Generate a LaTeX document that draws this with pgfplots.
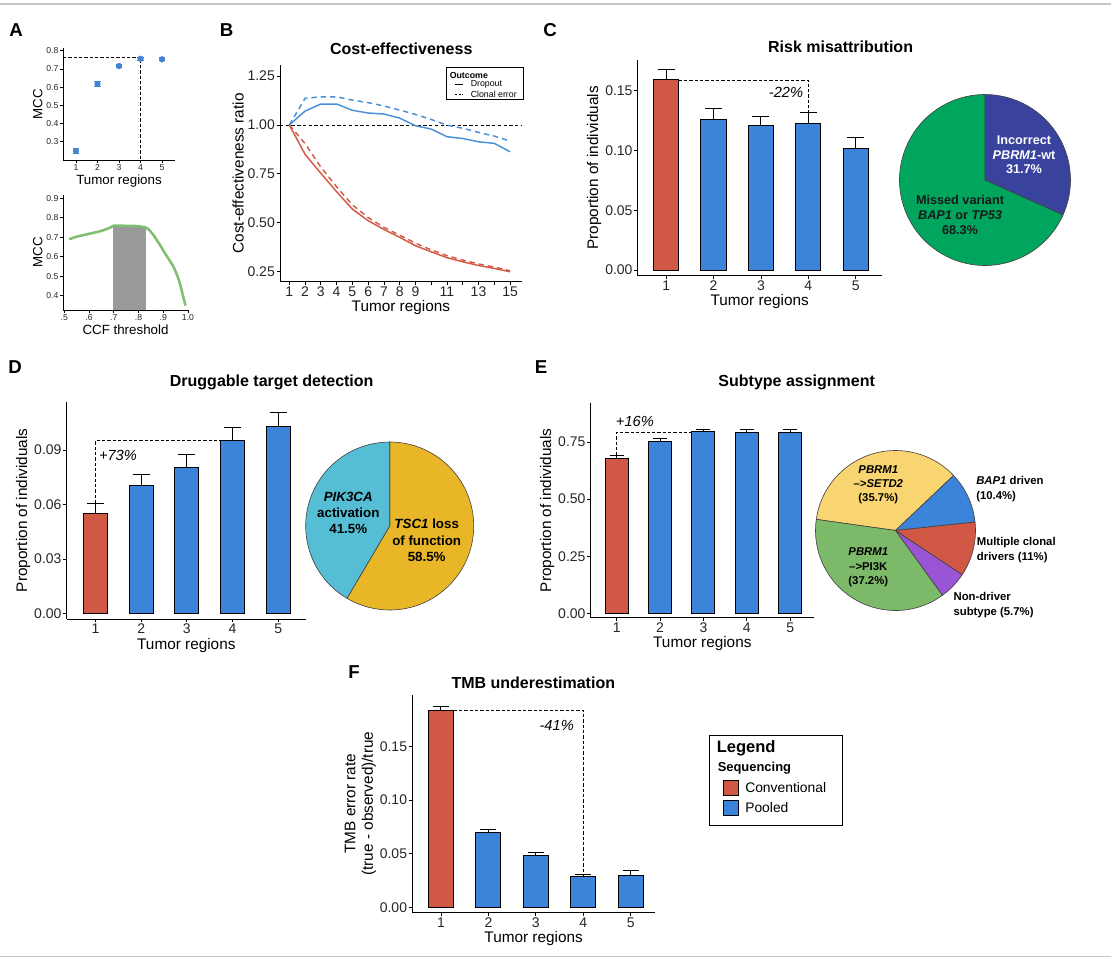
\documentclass[border=0pt]{standalone}
\usepackage{fontspec}
\setmainfont{Liberation Sans}
\usepackage{pgfplots}
\pgfplotsset{compat=1.18}

\definecolor{cred}{RGB}{208,88,68}
\definecolor{cblue}{RGB}{59,132,217}
\definecolor{lblue}{RGB}{74,144,217}
\definecolor{lred}{RGB}{210,90,70}
\definecolor{ptblue}{RGB}{65,130,210}
\definecolor{agreen}{RGB}{128,190,112}
\definecolor{pdarkblue}{RGB}{57,67,157}
\definecolor{pgreen}{RGB}{0,166,93}
\definecolor{pcyan}{RGB}{85,190,212}
\definecolor{pgold}{RGB}{233,182,40}
\definecolor{pyellow}{RGB}{248,213,112}
\definecolor{ppurple}{RGB}{153,85,212}
\definecolor{pegreen}{RGB}{124,185,104}

\pgfplotsset{
  gg/.style={scale only axis, anchor=south west, clip=false,
    axis lines*=left, axis line style={black, line width=0.75pt, -},
    tick align=outside, major tick length=2.5pt,
    every tick/.append style={black, line width=0.6pt},
    ticklabel style={font=\fontsize{10.5}{12}\selectfont, text=black!85, inner sep=1.2pt},
    label style={font=\fontsize{11.5}{13}\selectfont, inner sep=1.5pt},
    /pgf/number format/assume math mode=true,
    enlargelimits=false},
  twodec/.style={yticklabel style={/pgf/number format/.cd, fixed, fixed zerofill, precision=2}},
  gbar/.style={ybar, bar width=0.53, bar shift=0pt, draw=black, line width=0.75pt, fill=#1},
  gerr/.style={error bars/.cd, y dir=plus, y explicit,
    error bar style={black, line width=0.75pt, solid},
    error mark=|, error mark options={black, line width=0.75pt, mark size=#1}},
  bracket/.style={black, line width=0.6pt, dash pattern=on 2.5pt off 1.5pt},
}

% pie: centre x, centre y (px), radius (px), start angle; slices in \pieslices (clockwise)
\newcommand{\pie}[4]{%
  \begin{scope}[shift={(#1*0.75pt,-#2*0.75pt)}, x=0.75pt, y=0.75pt]
    \xdef\ang{#4}
    \foreach \p/\c in \pieslices {
      \pgfmathsetmacro\angb{\ang-3.6*\p}
      \filldraw[fill=\c, draw=black!75, line width=0.45pt] (0,0) -- (\ang:#3)
        arc[start angle=\ang, end angle=\angb, radius=#3] -- cycle;
      \xdef\ang{\angb}
    }
  \end{scope}}

\begin{document}
\begin{tikzpicture}
\begin{scope}[x=0.75pt,y=-0.75pt]
  \useasboundingbox (0,0) rectangle (1111,958);
  \draw[black!22, line width=1.2pt] (0,4) -- (1111,4);
  \draw[black!22, line width=1.2pt] (0,956.5) -- (1111,956.5);
  \foreach \l/\x/\y in {A/16/30, B/226.5/30, C/550/30, D/15/367, E/541/367, F/354/672}
    \node[font=\fontsize{14}{16}\selectfont\bfseries] at (\x,\y) {\l};
  \begin{scope}[every node/.style={font=\fontsize{12}{14}\selectfont\bfseries}]
    \node at (401.3,48.5) {Cost-effectiveness};
    \node at (840.6,46.7) {Risk misattribution};
    \node at (271.7,382.7) {Druggable target detection};
    \node at (796.7,382.7) {Subtype assignment};
    \node at (533.3,682.7) {TMB underestimation};
  \end{scope}
  % legend of panel B
  \draw[black, line width=0.75pt] (446.7,67.3) rectangle (523.3,99.3);
  \node[anchor=west, inner sep=0pt, font=\fontsize{6.6}{8}\selectfont\bfseries] at (449.5,75) {Outcome};
  \draw[black, line width=0.6pt] (455,84.3) -- (462.7,84.3);
  \draw[black, line width=0.6pt, dash pattern=on 1.6pt off 1.2pt] (455,94) -- (462.7,94);
  \node[anchor=west, inner sep=0pt, font=\fontsize{6.6}{8}\selectfont] at (470.5,84.3) {Dropout};
  \node[anchor=west, inner sep=0pt, font=\fontsize{6.6}{8}\selectfont] at (470.5,94) {Clonal error};
  % legend of panel F
  \draw[black, line width=0.75pt] (709.3,735.7) rectangle (842.3,825);
  \node[anchor=west, inner sep=0pt, font=\fontsize{12.4}{14}\selectfont\bfseries] at (716.5,748.3) {Legend};
  \node[anchor=west, inner sep=0pt, font=\fontsize{9.7}{12}\selectfont\bfseries] at (717.5,767.7) {Sequencing};
  \filldraw[fill=cred, draw=black, line width=0.5pt] (723.3,780.7) rectangle (738.3,795);
  \filldraw[fill=cblue, draw=black, line width=0.5pt] (723.3,800.7) rectangle (738.3,815);
  \node[anchor=west, inner sep=0pt, font=\fontsize{10.4}{12}\selectfont] at (745,788) {Conventional};
  \node[anchor=west, inner sep=0pt, font=\fontsize{10.4}{12}\selectfont] at (745,808) {Pooled};
\end{scope}

% ---- pies
\def\pieslices{31.7/pdarkblue, 68.3/pgreen}
\pie{985}{180}{85.5}{90}
\def\pieslices{58.5/pgold, 41.5/pcyan}
\pie{389.7}{526}{84}{90}
\def\pieslices{35.7/pyellow, 10.4/cblue, 11/cred, 5.7/ppurple, 37.2/pegreen}
\pie{895.5}{530.5}{80}{172}

\begin{scope}[x=0.75pt,y=-0.75pt]
  \node[align=center, text=white, font=\fontsize{9.5}{11}\selectfont\bfseries] at (1024,155)
    {Incorrect\\\textit{PBRM1}-wt\\31.7\%};
  \node[align=center, text=black!90, font=\fontsize{9.5}{11}\selectfont\bfseries] at (960,215)
    {Missed variant\\\textit{BAP1} or \textit{TP53}\\68.3\%};
  \node[align=center, font=\fontsize{10}{12}\selectfont\bfseries] at (348.3,512.7)
    {\textit{PIK3CA}\\activation\\41.5\%};
  \node[align=center, font=\fontsize{10}{12.3}\selectfont\bfseries] at (426.7,540.5)
    {\textit{TSC1} loss\\of function\\58.5\%};
  \node[align=center, font=\fontsize{8.5}{10.7}\selectfont\bfseries] at (878.3,484.7)
    {\textit{PBRM1}\\\textit{\textendash{}>SETD2}\\(35.7\%)};
  \node[align=center, font=\fontsize{8.5}{10.7}\selectfont\bfseries] at (868.3,567.3)
    {\textit{PBRM1}\\\textendash{}>PI3K\\(37.2\%)};
  \node[align=left, anchor=west, inner sep=0pt, font=\fontsize{8.5}{11.2}\selectfont\bfseries] at (976,489)
    {\textit{BAP1} driven\\(10.4\%)};
  \node[align=left, anchor=west, inner sep=0pt, font=\fontsize{8.5}{11.2}\selectfont\bfseries] at (976.7,550)
    {Multiple clonal\\drivers (11\%)};
  \node[align=left, anchor=west, inner sep=0pt, font=\fontsize{8.5}{11.2}\selectfont\bfseries] at (953.3,604.7)
    {Non-driver\\subtype (5.7\%)};
\end{scope}

% ---- A top: MCC by tumor regions
\begin{axis}[gg, at={(47.25pt,-120pt)}, width=84pt, height=84pt,
  xmin=0.4, xmax=5.6, ymin=0.2, ymax=0.815,
  xtick={1,...,5}, ytick={0.3,0.4,0.5,0.6,0.7,0.8},
  major tick length=2pt,
  ticklabel style={font=\fontsize{6.5}{7.5}\selectfont},
  label style={font=\fontsize{10}{12}\selectfont},
  xlabel={Tumor regions}, ylabel={MCC}]
\addplot[bracket] coordinates {(0.4,0.765) (4,0.765) (4,0.2)};
\addplot[only marks, mark=*, mark size=2.1pt, color=ptblue,
  error bars/.cd, y dir=both, y explicit,
  error bar style={ptblue, line width=0.8pt},
  error mark=|, error mark options={ptblue, line width=0.8pt, mark size=2.4pt}]
  coordinates {(1,0.249) +- (0,0.013) (2,0.617) +- (0,0.012) (3,0.716) +- (0,0.010)
               (4,0.756) +- (0,0.008) (5,0.753) +- (0,0.008)};
\end{axis}

% ---- A bottom: MCC by CCF threshold
\begin{axis}[gg, at={(47.25pt,-232.5pt)}, width=93.75pt, height=86.25pt,
  xmin=0.495, xmax=1.0, ymin=0.327, ymax=0.917,
  xtick={0.5,0.6,0.7,0.8,0.9,1.0}, xticklabels={.5,.6,.7,.8,.9,1.0},
  ytick={0.4,0.5,0.6,0.7,0.8,0.9},
  major tick length=2pt,
  ticklabel style={font=\fontsize{6.5}{7.5}\selectfont},
  label style={font=\fontsize{10}{12}\selectfont},
  xlabel={CCF threshold}, ylabel={MCC}]
\addplot[fill=black!40, draw=none] coordinates {(0.697,0.327) (0.697,0.758) (0.83,0.758) (0.83,0.327)} -- cycle;
\addplot[agreen, line width=1.9pt, smooth] coordinates {
  (0.52,0.690) (0.55,0.703) (0.60,0.718) (0.65,0.733) (0.69,0.752) (0.70,0.760)
  (0.75,0.759) (0.80,0.757) (0.83,0.750) (0.84,0.742) (0.86,0.712) (0.887,0.660)
  (0.91,0.612) (0.94,0.552) (0.96,0.492) (0.97,0.450) (0.98,0.400) (0.99,0.350)};
\end{axis}

% ---- B: cost-effectiveness
\begin{axis}[gg, at={(210pt,-211.3pt)}, width=181.3pt, height=162.5pt,
  xmin=0.41, xmax=15.74, ymin=0.199, ymax=1.306,
  xtick={1,...,15}, xticklabels={1,2,3,4,5,6,7,8,9,{},11,{},13,{},15},
  ytick={0.25,0.5,0.75,1,1.25}, twodec,
  xlabel={Tumor regions}, ylabel={Cost-effectiveness ratio}]
\addplot[black, line width=0.5pt, dash pattern=on 2.5pt off 1.8pt] coordinates {(0.41,1) (15.74,1)};
\addplot[lblue, line width=1.1pt] coordinates {(1,1.0) (2,1.071) (3,1.107) (4,1.107) (5,1.075)
  (6,1.061) (7,1.056) (8,1.035) (9,0.996) (10,0.979) (11,0.940) (12,0.931) (13,0.914) (14,0.906) (15,0.863)};
\addplot[lblue, line width=1.1pt, dash pattern=on 4pt off 3pt] coordinates {(1,1.0) (2,1.136) (3,1.144)
  (4,1.144) (5,1.127) (6,1.114) (7,1.097) (8,1.076) (9,1.054) (10,1.028) (11,0.999) (12,0.983) (13,0.962) (14,0.943) (15,0.918)};
\addplot[lred, line width=1.1pt] coordinates {(1,1.0) (2,0.850) (3,0.753) (4,0.659) (5,0.570)
  (6,0.511) (7,0.466) (8,0.426) (9,0.383) (10,0.352) (11,0.322) (12,0.301) (13,0.282) (14,0.267) (15,0.250)};
\addplot[lred, line width=1.1pt, dash pattern=on 4pt off 3pt] coordinates {(1,1.0) (2,0.905) (3,0.785)
  (4,0.684) (5,0.592) (6,0.527) (7,0.477) (8,0.437) (9,0.396) (10,0.362) (11,0.332) (12,0.310) (13,0.290) (14,0.274) (15,0.255)};
\end{axis}

% ---- C: risk misattribution
\begin{axis}[gg, at={(478.3pt,-206.8pt)}, width=183pt, height=161.8pt,
  xmin=0.4, xmax=5.55, ymin=-0.0048, ymax=0.1757,
  xtick={1,...,5}, ytick={0,0.05,0.10,0.15}, twodec,
  xlabel={Tumor regions}, ylabel={Proportion of individuals}]
\addplot[gbar=cred, gerr=6.4pt] coordinates {(1,0.159) +- (0,0.009)};
\addplot[gbar=cblue, gerr=6.4pt] coordinates {(2,0.126) +- (0,0.009) (3,0.121) +- (0,0.0076)
  (4,0.1227) +- (0,0.0093) (5,0.102) +- (0,0.009)};
\addplot[bracket] coordinates {(1.265,0.159) (4,0.159) (4,0.132)};
\node[font=\fontsize{11}{13}\selectfont\itshape] at (axis cs:3.53,0.1483) {-22\%};
\end{axis}

% ---- D: druggable target detection
\begin{axis}[gg, at={(50pt,-464.25pt)}, width=179.5pt, height=163pt,
  xmin=0.366, xmax=5.61, ymin=-0.0031, ymax=0.1166,
  xtick={1,...,5}, ytick={0,0.03,0.06,0.09}, twodec,
  xlabel={Tumor regions}, ylabel={Proportion of individuals}]
\addplot[gbar=cred, gerr=6.4pt] coordinates {(1,0.0551) +- (0,0.0055)};
\addplot[gbar=cblue, gerr=6.4pt] coordinates {(2,0.0705) +- (0,0.0061) (3,0.0805) +- (0,0.0069)
  (4,0.0953) +- (0,0.0070) (5,0.1031) +- (0,0.0077)};
\addplot[bracket] coordinates {(1,0.0606) (1,0.0953) (3.735,0.0953)};
\node[font=\fontsize{11}{13}\selectfont\itshape] at (axis cs:1.49,0.0872) {+73\%};
\end{axis}

% ---- E: subtype assignment
\begin{axis}[gg, at={(443pt,-463.3pt)}, width=167.5pt, height=161.25pt,
  xmin=0.4, xmax=5.55, ymin=-0.019, ymax=0.922,
  xtick={1,...,5}, ytick={0,0.25,0.5,0.75}, twodec,
  xlabel={Tumor regions}, ylabel={Proportion of individuals}]
\addplot[gbar=cred, gerr=5.3pt] coordinates {(1,0.677) +- (0,0.013)};
\addplot[gbar=cblue, gerr=5.3pt] coordinates {(2,0.753) +- (0,0.011) (3,0.797) +- (0,0.009)
  (4,0.792) +- (0,0.014) (5,0.792) +- (0,0.014)};
\addplot[bracket] coordinates {(1,0.69) (1,0.792) (2.735,0.792)};
\node[font=\fontsize{11}{13}\selectfont\itshape] at (axis cs:1.42,0.842) {+16\%};
\end{axis}

% ---- F: TMB underestimation
\begin{axis}[gg, at={(309.2pt,-684.2pt)}, width=182pt, height=163pt,
  xmin=0.395, xmax=5.51, ymin=-0.0047, ymax=0.198,
  xtick={1,...,5}, ytick={0,0.05,0.10,0.15}, twodec,
  xlabel={Tumor regions}, ylabel={TMB error rate\\(true - observed)/true},
  ylabel style={align=center}]
\addplot[gbar=cred, gerr=6pt] coordinates {(1,0.1836) +- (0,0.0037)};
\addplot[gbar=cblue, gerr=6pt] coordinates {(2,0.070) +- (0,0.0025) (3,0.0486) +- (0,0.0028)
  (4,0.0286) +- (0,0.0022) (5,0.030) +- (0,0.0042)};
\addplot[bracket] coordinates {(1.265,0.1836) (4,0.1836) (4,0.0308)};
\node[font=\fontsize{11}{13}\selectfont\itshape] at (axis cs:3.44,0.170) {-41\%};
\end{axis}
\end{tikzpicture}
\end{document}
